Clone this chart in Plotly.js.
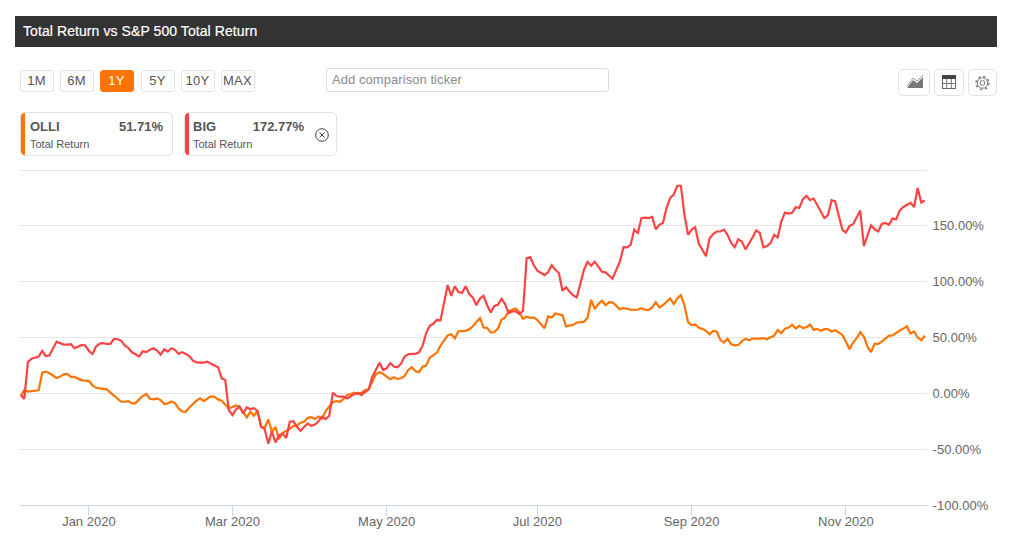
<!DOCTYPE html>
<html><head><meta charset="utf-8">
<script src="https://cdn.plot.ly/plotly-3.0.1.min.js"></script>
<style>
html,body{margin:0;padding:0;background:#fff;width:1010px;height:544px;overflow:hidden;font-family:"Liberation Sans",Arial,sans-serif;}
#chart{position:absolute;left:0;top:0;width:1010px;height:544px;}
.abs{position:absolute;box-sizing:border-box;}
#bar{left:15px;top:16px;width:982px;height:31px;background:#333;color:#fff;font-size:14px;line-height:30px;padding-left:8px;letter-spacing:.08px;-webkit-text-stroke:.2px #fff;}
.btn{top:70px;height:22px;width:34px;border:1px solid #e2e2e2;border-radius:3px;color:#555;font-size:13px;letter-spacing:.3px;line-height:19px;text-align:center;background:#fff;padding-right:1px;}
.btn.on{background:#ff7300;border-color:#ff7300;color:#fff;}
#inp{left:326px;top:68px;width:283px;height:24px;border:1px solid #dcdcdc;border-radius:3px;color:#8c8c8c;font-size:13px;letter-spacing:.06px;line-height:21px;padding-left:5px;}
.card{top:112px;width:153px;height:44px;border:1px solid #e2e2e2;border-radius:5px;background:#fff;overflow:hidden;}
.stripe{left:-1px;top:-1px;width:5px;height:44px;}
.nm{font-size:13px;font-weight:bold;color:#555;top:6px;left:9px;}
.val{font-size:13px;font-weight:bold;color:#555;top:6px;text-align:right;}
.sub{font-size:11px;color:#555;top:25px;left:9px;}
.ico{top:69px;height:27px;border:1px solid #e2e2e2;border-radius:5px;background:#fff;}
.ico svg{position:absolute;left:0;top:0;}
</style></head><body>
<div id="chart"></div>
<div class="abs" id="bar">Total Return vs S&amp;P 500 Total Return</div>
<div class="abs btn" style="left:20px">1M</div>
<div class="abs btn" style="left:60px">6M</div>
<div class="abs btn on" style="left:100px">1Y</div>
<div class="abs btn" style="left:141px">5Y</div>
<div class="abs btn" style="left:181px">10Y</div>
<div class="abs btn" style="left:221px">MAX</div>
<div class="abs" id="inp">Add comparison ticker</div>
<div class="abs card" style="left:20px"><div class="abs stripe" style="background:#ff7300"></div><div class="abs nm">OLLI</div><div class="abs val" style="right:9px">51.71%</div><div class="abs sub">Total Return</div></div>
<div class="abs card" style="left:184px"><div class="abs stripe" style="background:#fa4444"></div><div class="abs nm" style="left:8px">BIG</div><div class="abs val" style="right:32px">172.77%</div><div class="abs sub" style="left:8px">Total Return</div>
<svg class="abs" style="left:129px;top:14px" width="16" height="16" viewBox="0 0 16 16"><circle cx="8" cy="8" r="6.3" fill="none" stroke="#444" stroke-width="1"/><path d="M5.5 5.5L10.5 10.5M10.5 5.5L5.5 10.5" stroke="#444" stroke-width="1"/></svg></div>
<div class="abs ico" style="left:898px;width:32px"><svg width="30" height="25" viewBox="0 0 30 25"><path d="M8 18L14 10L18 13L24 7V18Z" fill="#777"/><path d="M8 16L14 8L18 11L24 5" fill="none" stroke="#999" stroke-width="1"/></svg></div>
<div class="abs ico" style="left:934px;width:30px"><svg width="28" height="25" viewBox="0 0 28 25"><rect x="7.5" y="5.5" width="13" height="13" fill="#fff" stroke="#666"/><rect x="7" y="5" width="14" height="4" fill="#444"/><path d="M7 13.5H21M11.7 9V19M16.3 9V19" stroke="#777" stroke-width="1"/></svg></div>
<div class="abs ico" style="left:968px;width:29px"><svg width="27" height="25" viewBox="0 0 27 25"><circle cx="13.5" cy="13" r="2.4" fill="none" stroke="#777"/><circle cx="13.5" cy="13" r="5.2" fill="none" stroke="#777"/><circle cx="13.5" cy="13" r="6.5" fill="none" stroke="#777" stroke-width="1.4" stroke-dasharray="2.2 2.9"/></svg></div>
<script>
const dates = [
"2019-12-04","2019-12-05","2019-12-06","2019-12-09","2019-12-10","2019-12-11","2019-12-12","2019-12-13","2019-12-16","2019-12-17","2019-12-18","2019-12-19","2019-12-20","2019-12-23","2019-12-24","2019-12-26","2019-12-27","2019-12-30","2019-12-31",
"2020-01-02","2020-01-03","2020-01-06","2020-01-07","2020-01-08","2020-01-09","2020-01-10","2020-01-13","2020-01-14","2020-01-15","2020-01-16","2020-01-17","2020-01-21","2020-01-22","2020-01-23","2020-01-24","2020-01-27","2020-01-28","2020-01-29","2020-01-30","2020-01-31",
"2020-02-03","2020-02-04","2020-02-05","2020-02-06","2020-02-07","2020-02-10","2020-02-11","2020-02-12","2020-02-13","2020-02-14","2020-02-18","2020-02-19","2020-02-20","2020-02-21","2020-02-24","2020-02-25","2020-02-26","2020-02-27","2020-02-28",
"2020-03-02","2020-03-03","2020-03-04","2020-03-05","2020-03-06","2020-03-09","2020-03-10","2020-03-11","2020-03-12","2020-03-13","2020-03-16","2020-03-17","2020-03-18","2020-03-19","2020-03-20","2020-03-23","2020-03-24","2020-03-25","2020-03-26","2020-03-27","2020-03-30","2020-03-31",
"2020-04-01","2020-04-02","2020-04-03","2020-04-06","2020-04-07","2020-04-08","2020-04-09","2020-04-13","2020-04-14","2020-04-15","2020-04-16","2020-04-17","2020-04-20","2020-04-21","2020-04-22","2020-04-23","2020-04-24","2020-04-27","2020-04-28","2020-04-29","2020-04-30",
"2020-05-01","2020-05-04","2020-05-05","2020-05-06","2020-05-07","2020-05-08","2020-05-11","2020-05-12","2020-05-13","2020-05-14","2020-05-15","2020-05-18","2020-05-19","2020-05-20","2020-05-21","2020-05-22","2020-05-26","2020-05-27","2020-05-28","2020-05-29",
"2020-06-01","2020-06-02","2020-06-03","2020-06-04","2020-06-05","2020-06-08","2020-06-09","2020-06-10","2020-06-11","2020-06-12","2020-06-15","2020-06-16","2020-06-17","2020-06-18","2020-06-19","2020-06-22","2020-06-23","2020-06-24","2020-06-25","2020-06-26","2020-06-29","2020-06-30",
"2020-07-01","2020-07-02","2020-07-06","2020-07-07","2020-07-08","2020-07-09","2020-07-10","2020-07-13","2020-07-14","2020-07-15","2020-07-16","2020-07-17","2020-07-20","2020-07-21","2020-07-22","2020-07-23","2020-07-24","2020-07-27","2020-07-28","2020-07-29","2020-07-30","2020-07-31",
"2020-08-03","2020-08-04","2020-08-05","2020-08-06","2020-08-07","2020-08-10","2020-08-11","2020-08-12","2020-08-13","2020-08-14","2020-08-17","2020-08-18","2020-08-19","2020-08-20","2020-08-21","2020-08-24","2020-08-25","2020-08-26","2020-08-27","2020-08-28","2020-08-31",
"2020-09-01","2020-09-02","2020-09-03","2020-09-04","2020-09-08","2020-09-09","2020-09-10","2020-09-11","2020-09-14","2020-09-15","2020-09-16","2020-09-17","2020-09-18","2020-09-21","2020-09-22","2020-09-23","2020-09-24","2020-09-25","2020-09-28","2020-09-29","2020-09-30",
"2020-10-01","2020-10-02","2020-10-05","2020-10-06","2020-10-07","2020-10-08","2020-10-09","2020-10-12","2020-10-13","2020-10-14","2020-10-15","2020-10-16","2020-10-19","2020-10-20","2020-10-21","2020-10-22","2020-10-23","2020-10-26","2020-10-27","2020-10-28","2020-10-29","2020-10-30",
"2020-11-02","2020-11-03","2020-11-04","2020-11-05","2020-11-06","2020-11-09","2020-11-10","2020-11-11","2020-11-12","2020-11-13","2020-11-16","2020-11-17","2020-11-18","2020-11-19","2020-11-20","2020-11-23","2020-11-24","2020-11-25","2020-11-27","2020-11-30",
"2020-12-01","2020-12-02","2020-12-03"];
const big = [
-1.5,-5,28,31,32,33,38,33.5,34,40,
46.4,45,43.7,43.7,44,40.4,42,43.4,42.8,38,
35.3,42,44.6,45,44.3,44.3,48.8,48.5,47.3,43,
40.7,36.8,35,33,37.7,37,39,40.4,38.3,34.7,
39.5,37.4,40.4,39,35.3,36.8,35.3,33.5,29.3,27.8,
27.5,27.5,28.4,27,24.9,23.4,13.5,12,-15,-19.5,
-14.4,-12,-18,-12.6,-14,-13.2,-15.6,-30,-32,-45,
-34,-44,-37.4,-36,-40,-25.4,-25,-30,-33.5,-30,
-27,-29,-28,-25,-21,-23,-20,0.6,-2.4,-3,
-3,-4.5,-2.4,-0.6,0.6,-1.5,1.2,3.6,15,21,
27.5,21,22.5,27,24,23.4,26.6,33,35,35.3,
35.3,36.8,42.5,54,60.5,62.3,65.9,65.3,82,97,
87.4,96,90.7,90,96,89,86,79,85,87.4,
79,72.5,78.4,79.3,84.7,80,71.9,73.4,73.4,71,
74,121,122,115,110,107.8,106,108.7,114.7,110.8,
107.8,92,95,91,87.7,86,98.8,110.8,117.7,114.4,
118,113.8,109,108.4,105.4,102.7,110.8,118,131,130.8,
133,146.7,143.7,157,157.5,157,158,147,151,152.7,
166,175,178,186,186,160,142,146.7,148.8,134,
128.7,122.8,139,142.8,145,145,146.7,142,134.7,131,
138,136,129,134,139.8,146,143.7,130.8,132,134.7,
142,139.8,154,162,161,161.7,166.8,166,174,177,
173,174.5,169,163,157,159.6,173,172,160,146.7,
144,150,151.5,157.8,163.8,132,140.7,150.6,147,145,
151.8,152.7,151,156.6,156,163.8,167,168.9,170.7,167,
184,171,172.77];
const olli = [
-2.4,3,1.5,2,2.4,2.7,18.6,19.5,18,15.6,
13.8,15,17,17.4,14.7,14.7,12.9,11.7,11.4,11,
7.2,5,4.5,4.2,3.6,0.6,-2.4,-5.4,-7.5,-7.5,
-6.9,-9,-8.7,-5.4,-2.4,-0.6,-4.8,-5.4,-4.5,-6,
-9.6,-9,-7.2,-8.7,-13.5,-16.2,-16.5,-12.6,-9.3,-6.6,
-4.5,-6.9,-4.8,-2.7,-3,-5.4,-6.6,-10.5,-13.5,-12.3,
-10.8,-12,-16.5,-21.6,-16.5,-20,-15.6,-30,-30.5,-23.4,
-34.4,-30,-41,-35.3,-33.8,-31.4,-29.3,-28.7,-26.3,-25.4,
-21.9,-21.3,-23,-20.7,-22.5,-15.9,-11.4,-8,-6.9,-7.5,
-5,-1.5,-0.6,0.6,-0.6,0.6,3,3.6,10.5,17.4,
19,17.4,15,12.6,14.4,12.9,13.5,15.6,21,23.4,
20,19,24,25,32,34.4,36.5,42.8,47,52,
53,49.4,55.7,56,56,57.5,59.9,64,67.4,59,
58.7,54.5,55,58,65.9,68,73.7,74.9,76,72.5,
66.8,68.6,67.7,68,65.6,62,58.4,68.9,68,71.6,
70.7,70,60,60.8,61.4,63.5,63.5,64,68,83.8,
75.4,80,83,79,81.7,81.4,78.4,75.4,76.3,75.4,
75,74.9,74.9,76.3,75,74.5,77,81.7,77,79,
81.7,85,80,85,88,79,64,61,61.7,58.7,
57.8,56,53,56,55.4,48,45.5,49,44,43,
43.4,46.7,49,47.6,49,48.8,49,49.4,48.5,50.3,
51.5,56.9,53.9,58,59,61.4,58,60.5,58.4,59.3,
61.7,56.9,57.8,56,57.5,57.5,55.4,56.6,54.5,52.4,
46.4,39.5,45.5,49.4,54.8,50.9,41.9,37,44.3,44.3,
46.4,49.4,51.8,52,54.5,56.3,58,60,53.6,55.4,
50,47.6,51.71];
const xTickVals = ["2020-01-02","2020-03-02","2020-05-01","2020-07-01","2020-09-01","2020-11-02"];
const xTickText = ["Jan 2020","Mar 2020","May 2020","Jul 2020","Sep 2020","Nov 2020"];
const yTickVals = [-100,-50,0,50,100,150,200];
const yTickText = ["-100.00%","-50.00%","0.00%","50.00%","100.00%","150.00%",""];
const fontFam = '"Liberation Sans",Arial,sans-serif';
Plotly.newPlot('chart',[
 {x:dates,y:olli,name:'OLLI',type:'scatter',mode:'lines',line:{color:'#ff7300',width:2.2}},
 {x:dates,y:big,name:'BIG',type:'scatter',mode:'lines',line:{color:'#fa4444',width:2.2}}
],{
 width:1010,height:544,showlegend:false,
 paper_bgcolor:'#fff',plot_bgcolor:'#fff',
 margin:{l:20,r:83,t:169,b:39,pad:0},
 font:{family:fontFam,size:13,color:'#666'},
 xaxis:{type:'category',categoryorder:'array',categoryarray:dates,range:[-0.2,252.6],tickmode:'array',tickvals:xTickVals,ticktext:xTickText,
  showgrid:false,zeroline:false,showline:true,linecolor:'#ccd6eb',linewidth:1,ticks:'outside',ticklen:10,tickcolor:'#ccd6eb',tickwidth:1,tickangle:0,ticklabelstandoff:-6,tickfont:{family:fontFam,size:13,color:'#666'}},
 yaxis:{side:'right',range:[-100,201],tickmode:'array',tickvals:yTickVals,ticktext:yTickText,showgrid:true,gridcolor:'#e6e6e6',gridwidth:1,zeroline:false,showline:false,ticks:'outside',ticklen:2,tickcolor:'rgba(0,0,0,0)',tickfont:{family:fontFam,size:13,color:'#666'}},
 hovermode:'x'
},{displayModeBar:false,responsive:false});
</script>
</body></html>
